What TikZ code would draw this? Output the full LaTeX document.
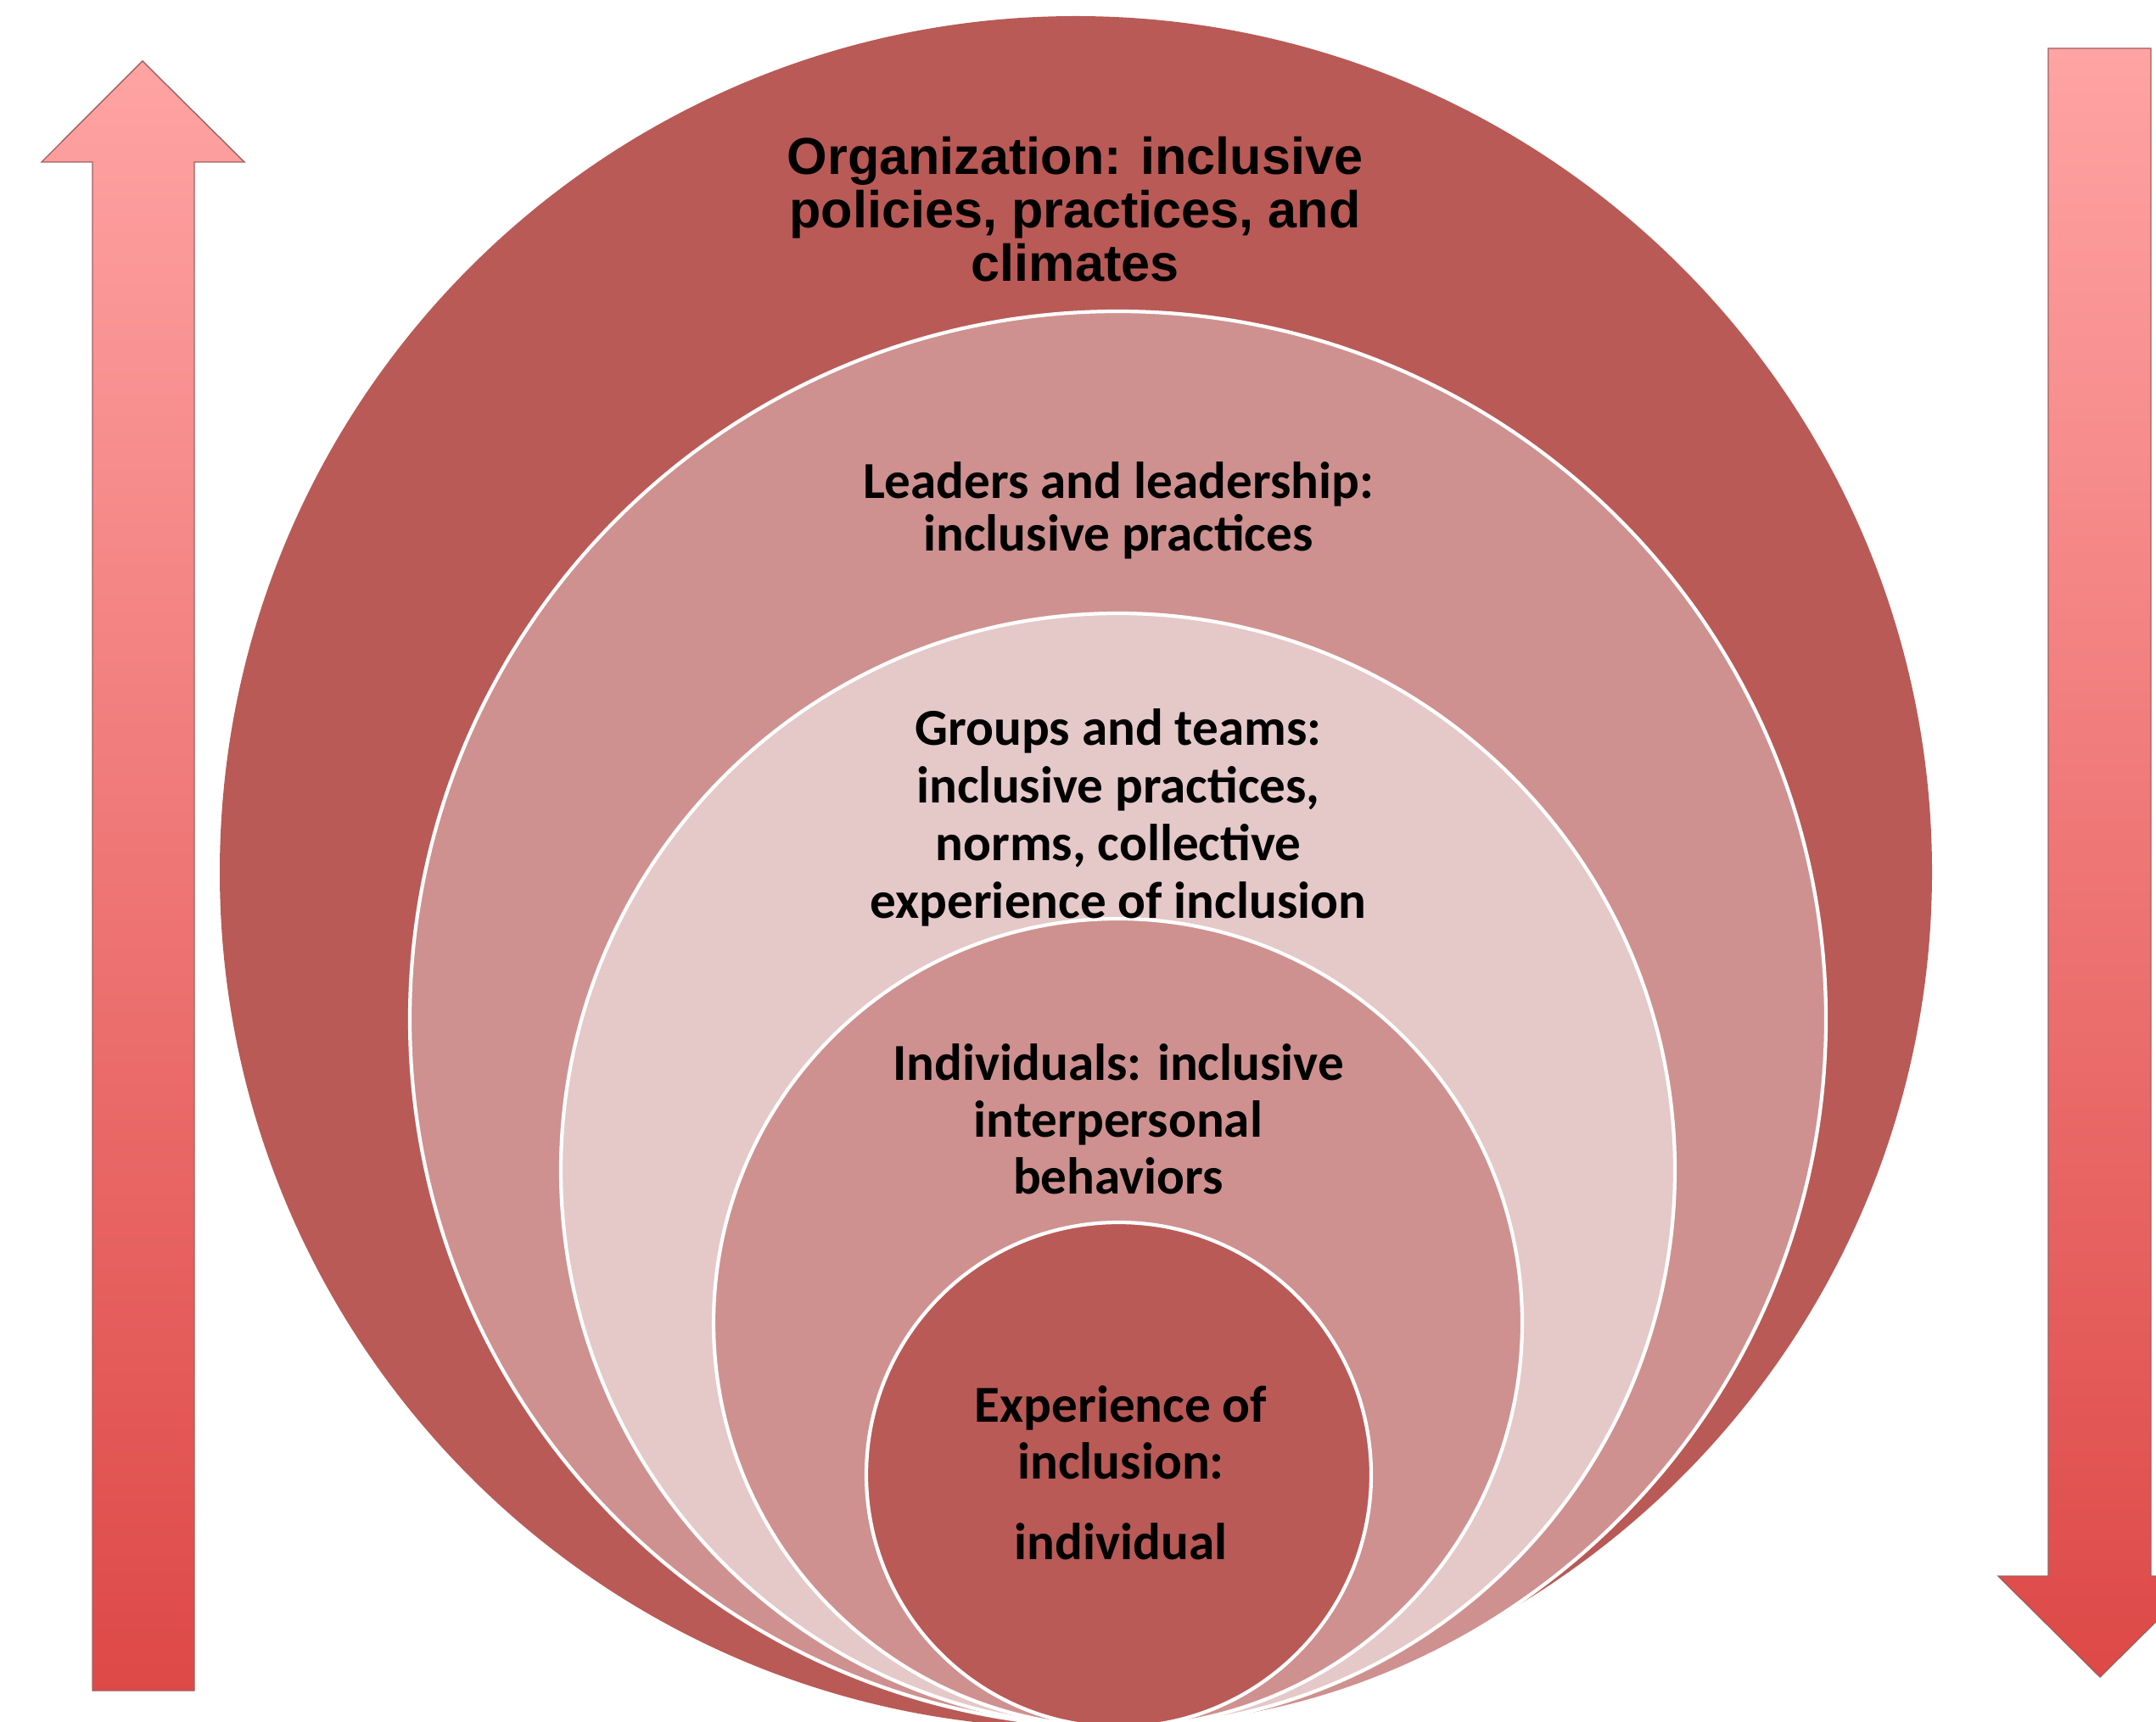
\documentclass[tikz,border=0pt]{standalone}
\usepackage{fontspec}
\setmainfont{Carlito}
\newfontfamily\orgfont{Liberation Sans}
\usepackage{tikz}
\usetikzlibrary{shadings}

\definecolor{darkring}{RGB}{185,90,87}
\definecolor{midring}{RGB}{206,145,143}
\definecolor{lightring}{RGB}{229,200,200}
\definecolor{arrowtop}{RGB}{255,163,163}
\definecolor{arrowbot}{RGB}{221,73,71}
\definecolor{arrowedge}{RGB}{160,95,95}

\begin{document}
\begin{tikzpicture}[inner sep=0pt,
		ring/.style={circle, draw=white, line width=1.2pt},
		ringtext/.style={align=center, text=black},
		bigarrow/.style={draw=arrowedge, line width=0.4pt, top color=arrowtop, bottom color=arrowbot}]
		\useasboundingbox (0,0) rectangle (25.41,-20.30);

		% nested circles, outside in
		\node[ring, draw=none, fill=darkring, minimum size=20.18cm](org) at (12.68,-10.28) {};
		\node[ring, fill=midring, minimum size=16.69cm](lead) at (13.175,-12.015) {};
		\node[ring, fill=lightring, minimum size=13.13cm](group) at (13.175,-13.795) {};
		\node[ring, fill=midring, minimum size=9.53cm](indiv) at (13.175,-15.595) {};
		\node[ring, fill=darkring, minimum size=5.95cm](self) at (13.185,-17.385) {};

		\node[ringtext, font=\orgfont\bfseries\fontsize{17.4pt}{17.93pt}\selectfont](orgtext) at (12.67,-2.47) {Organization: inclusive\\policies, practices, and\\climates};
		\node[ringtext, font=\bfseries\fontsize{17.4pt}{17.8pt}\selectfont](leadtext) at (13.18,-6.02) {Leaders and leadership:\\inclusive practices};
		\node[ringtext, font=\bfseries\fontsize{17.4pt}{19.3pt}\selectfont](grouptext) at (13.18,-9.64) {Groups and teams:\\inclusive practices,\\norms, collective\\experience of inclusion};
		\node[ringtext, font=\bfseries\fontsize{17.4pt}{19.1pt}\selectfont](indivtext) at (13.18,-13.19) {Individuals: inclusive\\interpersonal\\behaviors};
		\node[ringtext, font=\bfseries\fontsize{17.4pt}{19.1pt}\selectfont](selftext) at (13.21,-17.36) {Experience of\\inclusion:\\[8pt]individual};

		% side arrows
		\path[bigarrow] (1.09,-19.93) -- (1.09,-1.91) -- (0.49,-1.91) -- (1.68,-0.72) -- (2.88,-1.91) -- (2.29,-1.91) -- (2.29,-19.93) -- cycle;
		\path[bigarrow] (24.14,-0.57) -- (24.14,-18.58) -- (23.55,-18.58) -- (24.75,-19.77) -- (25.95,-18.58) -- (25.35,-18.58) -- (25.35,-0.57) -- cycle;
	\end{tikzpicture}
\end{document}
